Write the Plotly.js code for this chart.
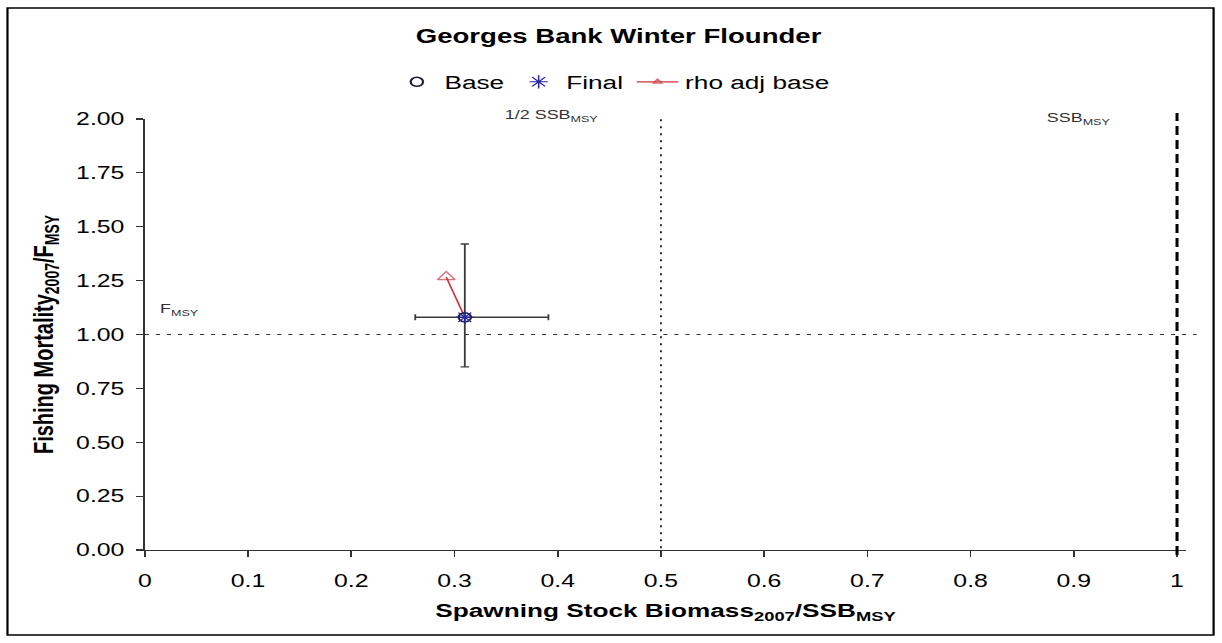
<!DOCTYPE html>
<html><head><meta charset="utf-8">
<script src="https://cdn.plot.ly/plotly-3.0.1.min.js"></script>
<style>
html,body{margin:0;padding:0;background:#fff;overflow:hidden;}
#wrap{width:1222px;height:643px;overflow:hidden;position:relative;}
#chart{width:886px;height:643px;transform:scaleX(1.3792);transform-origin:0 0;}
</style></head><body>
<div id="wrap"><div id="chart"></div></div>
<script>
// ---- data ----
const chartTitle = 'Georges Bank Winter Flounder';
const seriesNames = ['Base', 'Final', 'rho adj base'];
const baseX = [0.31];
const baseY = [1.08];
const finalX = [0.31];
const finalY = [1.08];
const rhoX = [0.292, 0.31];
const rhoY = [1.267, 1.08];
const errXMinus = [0.048];
const errXPlus = [0.081];
const errYMinus = [0.23];
const errYPlus = [0.34];
const xTickVals = [0, 0.1, 0.2, 0.3, 0.4, 0.5, 0.6, 0.7, 0.8, 0.9, 1];
const xTickText = ['0', '0.1', '0.2', '0.3', '0.4', '0.5', '0.6', '0.7', '0.8', '0.9', '1'];
const yTickVals = [0, 0.25, 0.5, 0.75, 1, 1.25, 1.5, 1.75, 2];
const yTickText = ['0.00', '0.25', '0.50', '0.75', '1.00', '1.25', '1.50', '1.75', '2.00'];
const fmsyRef = 1;
const halfSsbRef = 0.5;
const ssbMsyRef = 1;
const refLabels = ['1/2 SSB<sub>MSY</sub>', 'SSB<sub>MSY</sub>', 'F<sub>MSY</sub>'];

const FONT = 'Liberation Sans, Arial, Helvetica, sans-serif';

const traces = [
  {
    type: 'scatter', mode: 'lines+markers', name: seriesNames[2],
    x: rhoX, y: rhoY, legendrank: 3,
    line: {color: '#d0303a', width: 1.2},
    marker: {symbol: 'triangle-up-open', size: [11, 0], color: '#d0303a', line: {width: 1.2, color: '#d0303a'}}
  },
  {
    type: 'scatter', mode: 'markers', name: seriesNames[0],
    x: baseX, y: baseY, legendrank: 1,
    marker: {symbol: 'circle-open', size: 9, color: '#1c1c3a', line: {width: 1.6, color: '#1c1c3a'}},
    error_x: {type: 'data', symmetric: false, array: errXPlus, arrayminus: errXMinus, color: '#3a3a3a', thickness: 1.3, width: 3},
    error_y: {type: 'data', symmetric: false, array: errYPlus, arrayminus: errYMinus, color: '#3a3a3a', thickness: 1.3, width: 3}
  },
  {
    type: 'scatter', mode: 'markers', name: seriesNames[1],
    x: finalX, y: finalY, legendrank: 2,
    marker: {symbol: 'asterisk-open', size: 11, color: '#2525a8', line: {width: 1.1, color: '#2525a8'}}
  }
];

const layout = {
  width: 886, height: 643,
  margin: {l: 105.3, r: 26.2, t: 119, b: 93, pad: 0},
  paper_bgcolor: '#fff', plot_bgcolor: '#fff',
  font: {family: FONT, color: '#000'},
  title: {
    text: chartTitle, font: {family: FONT, size: 20, weight: 'bold', color: '#000'},
    xref: 'paper', x: 0.455, xanchor: 'center', yref: 'container', y: 0.944, yanchor: 'middle'
  },
  showlegend: true,
  legend: {
    orientation: 'h', xref: 'paper', x: 0.450, xanchor: 'center', yref: 'paper', y: 1.086, yanchor: 'middle',
    font: {family: FONT, size: 19, color: '#000'}, bgcolor: 'rgba(0,0,0,0)',
    traceorder: 'normal', itemwidth: 30
  },
  xaxis: {
    range: [0, 1.0088], tickmode: 'array', tickvals: xTickVals, ticktext: xTickText,
    showgrid: false, zeroline: false, showline: true, linecolor: '#333', linewidth: 1.2,
    ticks: 'outside', ticklen: 6, tickwidth: 1.2, tickcolor: '#333',
    tickfont: {family: FONT, size: 18, color: '#000'}, ticklabelstandoff: 8,
    title: {text: 'Spawning Stock Biomass<sub>2007</sub>/SSB<sub>MSY</sub>', font: {family: FONT, size: 19, weight: 'bold', color: '#000'}, standoff: 14}
  },
  yaxis: {
    range: [0, 2], tickmode: 'array', tickvals: yTickVals, ticktext: yTickText,
    showgrid: false, zeroline: false, showline: true, linecolor: '#333', linewidth: 1.2,
    ticks: 'outside', ticklen: 5, tickwidth: 1.2, tickcolor: '#333',
    tickfont: {family: FONT, size: 18, color: '#000'}, ticklabelstandoff: 5,
    title: {text: 'Fishing Mortality<sub>2007</sub>/F<sub>MSY</sub>', font: {family: FONT, size: 20, weight: 'bold', color: '#000'}, standoff: 10}
  },
  shapes: [
    {type: 'line', xref: 'paper', yref: 'y', x0: 0, x1: 1.0101, y0: fmsyRef, y1: fmsyRef,
     line: {color: '#333', width: 1.2, dash: '3px,5px'}},
    {type: 'line', xref: 'x', yref: 'paper', x0: halfSsbRef, x1: halfSsbRef, y0: 0.004, y1: 1.009,
     line: {color: '#222', width: 1.4, dash: '2px,5px'}},
    {type: 'line', xref: 'x', yref: 'paper', x0: ssbMsyRef, x1: ssbMsyRef, y0: -0.0116, y1: 1.014,
     line: {color: '#000', width: 2.2, dash: '9px,5px'}},
    {type: 'rect', xref: 'paper', yref: 'paper', x0: -0.1319, x1: 1.0264, y0: -0.1972, y1: 1.2575,
     line: {color: '#000', width: 1.6}, fillcolor: 'rgba(0,0,0,0)'}
  ],
  annotations: [
    {xref: 'x', yref: 'paper', x: 0.3466, y: 1.009, xanchor: 'left', yanchor: 'middle', showarrow: false,
     text: refLabels[0], font: {family: FONT, size: 13, color: '#333'}},
    {xref: 'x', yref: 'paper', x: 0.8717, y: 1.002, xanchor: 'left', yanchor: 'middle', showarrow: false,
     text: refLabels[1], font: {family: FONT, size: 13, color: '#333'}},
    {xref: 'x', yref: 'y', x: 0.0114, y: 1.114, xanchor: 'left', yanchor: 'middle', showarrow: false,
     text: refLabels[2], font: {family: FONT, size: 13, color: '#333'}}
  ]
};

Plotly.newPlot('chart', traces, layout, {displayModeBar: false, staticPlot: true});
</script>
</body></html>
